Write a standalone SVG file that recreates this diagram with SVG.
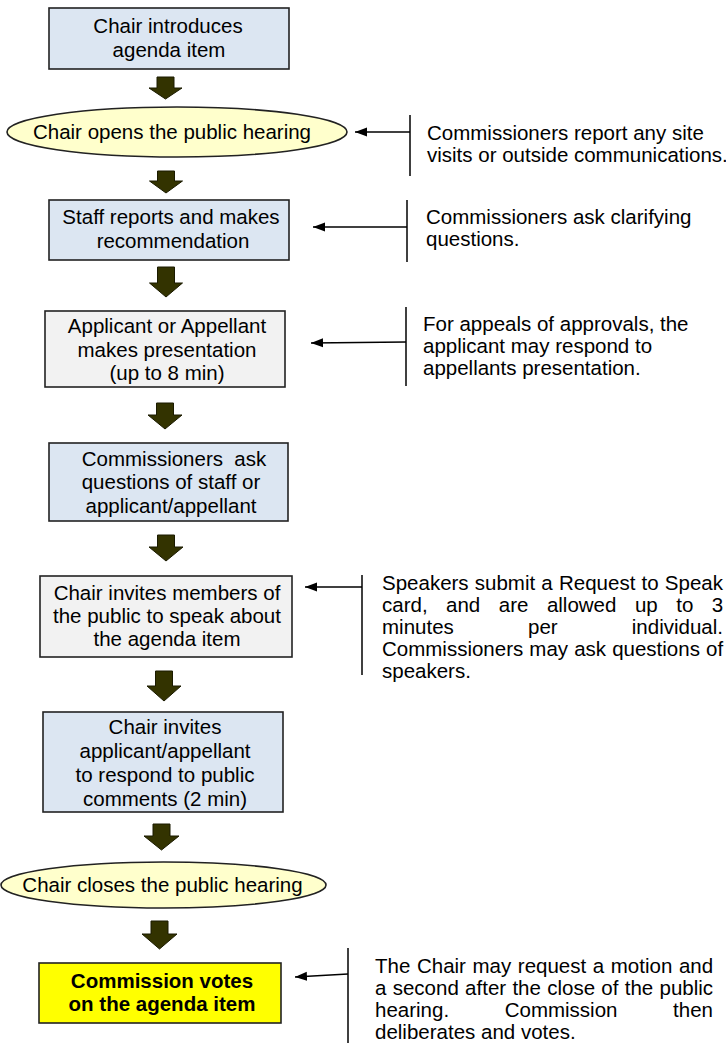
<svg xmlns="http://www.w3.org/2000/svg" width="726" height="1043" viewBox="0 0 726 1043">
<style>
text{font-family:"Liberation Sans",Arial,sans-serif;font-size:20.5px;fill:#000}
.c{text-anchor:middle}
.b{font-weight:bold}
.box{stroke:#222;stroke-width:1.6}
.blue{fill:#dce6f2}
.grey{fill:#f2f2f2}
.oval{fill:#ffffcc;stroke:#222;stroke-width:1.6}
.yel{fill:#ffff00}
.blk{fill:#333300;stroke:#1a1a00;stroke-width:1}
.ln{stroke:#000;stroke-width:1.5;fill:none}
</style>
<defs>
<marker id="ah" markerUnits="userSpaceOnUse" markerWidth="13" markerHeight="10" refX="12" refY="5" orient="auto">
<path d="M0,0.5 L12,5 L0,9.5 Z" fill="#000"/>
</marker>
</defs>
<rect width="726" height="1043" fill="#fff"/>

<g id="n1">
<rect class="box blue" x="49" y="8" width="240" height="61"/>
<text class="c" x="168" y="33">Chair introduces</text>
<text class="c" x="169" y="57">agenda item</text>
</g>
<g id="n2">
<ellipse class="oval" cx="177" cy="132" rx="170" ry="25"/>
<text class="c" x="172" y="139">Chair opens the public hearing</text>
</g>
<g id="n3">
<rect class="box blue" x="49" y="200" width="240" height="60"/>
<text class="c" x="171" y="224">Staff reports and makes</text>
<text class="c" x="173" y="248">recommendation</text>
</g>
<g id="n4">
<rect class="box grey" x="45" y="311" width="240" height="76"/>
<text class="c" x="167" y="333">Applicant or Appellant</text>
<text class="c" x="167" y="357">makes presentation</text>
<text class="c" x="167" y="380">(up to 8 min)</text>
</g>
<g id="n5">
<rect class="box blue" x="49" y="443" width="239" height="78"/>
<text class="c" x="174" y="466" xml:space="preserve">Commissioners  ask</text>
<text class="c" x="171" y="489">questions of staff or</text>
<text class="c" x="171" y="513">applicant/appellant</text>
</g>
<g id="n6">
<rect class="box grey" x="40" y="576" width="252" height="81"/>
<text class="c" x="167" y="600">Chair invites members of</text>
<text class="c" x="167" y="623">the public to speak about</text>
<text class="c" x="167" y="646">the agenda item</text>
</g>
<g id="n7">
<rect class="box blue" x="43" y="712" width="240" height="100"/>
<text class="c" x="165" y="734">Chair invites</text>
<text class="c" x="165" y="758">applicant/appellant</text>
<text class="c" x="165" y="782">to respond to public</text>
<text class="c" x="165" y="806">comments (2 min)</text>
</g>
<g id="n8">
<ellipse class="oval" cx="163.5" cy="885" rx="162.5" ry="23"/>
<text class="c" x="162.5" y="892">Chair closes the public hearing</text>
</g>
<g id="n9">
<rect class="box yel" x="39" y="963" width="242" height="60"/>
<text class="c b" x="162" y="988">Commission votes</text>
<text class="c b" x="162" y="1011">on the agenda item</text>
</g>

<g id="note1">
<text x="427" y="140">Commissioners report any site</text>
<text x="427" y="162">visits or outside communications.</text>
</g>
<g id="note2">
<text x="426" y="224">Commissioners ask clarifying</text>
<text x="426" y="246">questions.</text>
</g>
<g id="note3">
<text x="423" y="331">For appeals of approvals, the</text>
<text x="423" y="353">applicant may respond to</text>
<text x="423" y="375">appellants presentation.</text>
</g>
<g id="note5">
<text x="382" y="590" style="word-spacing:0.5px">Speakers submit a Request to Speak</text>
<text x="382" y="612" style="word-spacing:12.8px">card, and are allowed up to 3</text>
<text x="382" y="634" style="word-spacing:68.5px">minutes per individual.</text>
<text x="382" y="656" style="word-spacing:0.4px">Commissioners may ask questions of</text>
<text x="382" y="678">speakers.</text>
</g>
<g id="note7">
<text x="375" y="973" style="word-spacing:0.9px">The Chair may request a motion and</text>
<text x="375" y="995" style="word-spacing:0.6px">a second after the close of the public</text>
<text x="375" y="1017" style="word-spacing:49.9px">hearing. Commission then</text>
<text x="375" y="1039">deliberates and votes.</text>
</g>

<g id="connectors">
<path class="blk" d="M157,77 H174 V88 H182 L165.5,99 L149,88 H157 Z"/>
<path class="blk" d="M157.5,171 H174.5 V181 H182.5 L166,193 L149.5,181 H157.5 Z"/>
<path class="blk" d="M157.5,267 H174.5 V283 H182.5 L166,297 L149.5,283 H157.5 Z"/>
<path class="blk" d="M156.5,403 H173.5 V415 H182 L165,429 L148,415 H156.5 Z"/>
<path class="blk" d="M157.5,535 H174.5 V547 H183 L166,561 L149,547 H157.5 Z"/>
<path class="blk" d="M155.5,671 H172.5 V686 H181 L164,701 L147,686 H155.5 Z"/>
<path class="blk" d="M153,824 H170 V836 H179 L161.5,850 L144,836 H153 Z"/>
<path class="blk" d="M151,921 H168 V934 H177 L159.5,949 L142,934 H151 Z"/>

<line class="ln" x1="410" y1="115" x2="410" y2="176"/>
<line class="ln" x1="410" y1="132" x2="355" y2="132" marker-end="url(#ah)"/>
<line class="ln" x1="407" y1="200" x2="407" y2="262"/>
<line class="ln" x1="407" y1="227" x2="313" y2="227" marker-end="url(#ah)"/>
<line class="ln" x1="406" y1="307" x2="406" y2="386"/>
<line class="ln" x1="406" y1="342" x2="311" y2="343" marker-end="url(#ah)"/>
<line class="ln" x1="362" y1="575" x2="362" y2="675"/>
<line class="ln" x1="362" y1="587" x2="305" y2="587" marker-end="url(#ah)"/>
<line class="ln" x1="348" y1="948" x2="348" y2="1043"/>
<line class="ln" x1="348" y1="974" x2="295" y2="977" marker-end="url(#ah)"/>
</g>
</svg>
